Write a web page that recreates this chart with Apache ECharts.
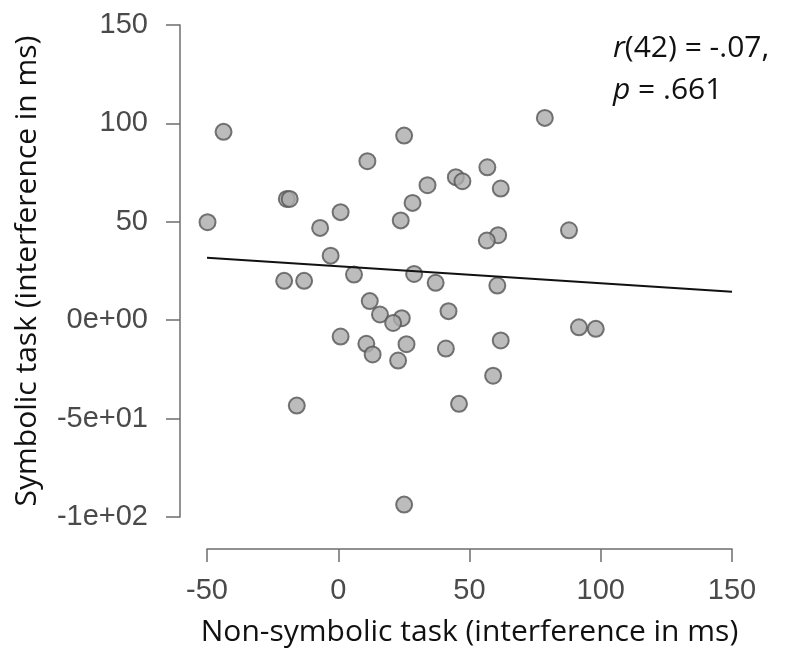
<!DOCTYPE html>
<html>
<head>
<meta charset="utf-8">
<script src="https://cdn.jsdelivr.net/npm/echarts@6/dist/echarts.min.js"></script>
<style>
  html, body { margin: 0; padding: 0; background: #fff; }
  #chart { width: 794px; height: 656px; }
</style>
</head>
<body>
<div id="chart"></div>
<script>
// interference scores (ms)
const nonSymbolic = [
  -43.7, 25.1, 11.1, -19.6, -18.5, -49.8, 0.9, -6.9, -2.9, 28.3,
  34.0, 23.8, 44.8, 47.3, 6.0, 28.9, -20.6, -13.0, 37.1, 78.7,
  56.8, 61.9, 60.9, 56.6, 87.9, 60.6, 42.0, 12.0, 15.9, 24.2,
  20.9, 0.9, 10.7, 13.1, 26.0, 22.8, 41.0, 61.9, 91.7, 98.1,
  59.0, 46.0, -15.8, 25.1
]
const symbolic = [
  95.7, 93.8, 80.8, 61.6, 61.6, 49.8, 54.9, 46.9, 32.8, 59.6,
  68.6, 50.7, 72.7, 70.6, 23.2, 23.5, 20.0, 20.0, 19.0, 102.8,
  77.7, 66.9, 43.2, 40.5, 45.7, 17.6, 4.6, 9.7, 2.9, 1.0,
  -1.4, -8.3, -12.0, -17.4, -12.2, -20.5, -14.4, -10.3, -3.6, -4.4,
  -28.2, -42.5, -43.4, -93.7
]

// fitted line end points
const fitX = [-50, 150]
const fitY = [31.7, 14.4]

const yTickLabels = {
  '150': '150',
  '100': '100',
  '50': '50',
  '0': '0e+00',
  '-50': '-5e+01',
  '-100': '-1e+02'
}

const points = nonSymbolic.map((x, i) => [x, symbolic[i]])
const fitLine = fitX.map((x, i) => [x, fitY[i]])

const myChart = echarts.init(document.getElementById('chart'))
const axisGray = '#6e6e6e'
const option = {
  animation: false,
  backgroundColor: '#fff',
  title: {
    left: 608,
    top: 22,
    text: '{i|r}(42) = -.07,\n{i|p} = .661',
    textStyle: {
      fontFamily: 'Open Sans',
      fontWeight: 'normal',
      fontSize: 30,
      color: '#111',
      lineHeight: 42,
      rich: {
        i: { fontStyle: 'italic', fontFamily: 'Open Sans', fontSize: 30, color: '#111', lineHeight: 42 }
      }
    }
  },
  grid: {
    left: 207,
    right: 62,
    top: 25,
    bottom: 139,
    containLabel: false,
    outerBoundsMode: 'none'
  },
  xAxis: {
    type: 'value',
    min: -50,
    max: 150,
    interval: 50,
    offset: 32,
    splitLine: { show: false },
    axisLine: { show: true, onZero: false, lineStyle: { color: axisGray, width: 1.5 } },
    axisTick: { show: true, length: 13, lineStyle: { color: axisGray, width: 1.5 } },
    axisLabel: {
      margin: 27,
      fontFamily: 'Liberation Sans',
      fontSize: 29,
      color: '#4a4a4a'
    },
    name: 'Non-symbolic task (interference in ms)',
    nameLocation: 'middle',
    nameGap: 68,
    nameTextStyle: { fontFamily: 'Open Sans', fontSize: 30, color: '#111' }
  },
  yAxis: {
    type: 'value',
    min: -100,
    max: 150,
    interval: 50,
    offset: 27,
    splitLine: { show: false },
    axisLine: { show: true, onZero: false, lineStyle: { color: axisGray, width: 1.5 } },
    axisTick: { show: true, length: 14, lineStyle: { color: axisGray, width: 1.5 } },
    axisLabel: {
      margin: 32,
      fontFamily: 'Liberation Sans',
      fontSize: 29,
      color: '#4a4a4a',
      formatter: v => yTickLabels[String(v)]
    },
    name: 'Symbolic task (interference in ms)',
    nameLocation: 'middle',
    nameGap: 138,
    nameRotate: 90,
    nameTextStyle: { fontFamily: 'Open Sans', fontSize: 30, color: '#111' }
  },
  series: [
    {
      type: 'line',
      data: fitLine,
      symbol: 'none',
      lineStyle: { color: '#111', width: 2 },
      z: 3
    },
    {
      type: 'scatter',
      data: points,
      symbolSize: 16,
      itemStyle: { color: '#ababab', borderColor: '#555', borderWidth: 2 },
      z: 2
    }
  ]
}
myChart.setOption(option)
</script>
</body>
</html>
